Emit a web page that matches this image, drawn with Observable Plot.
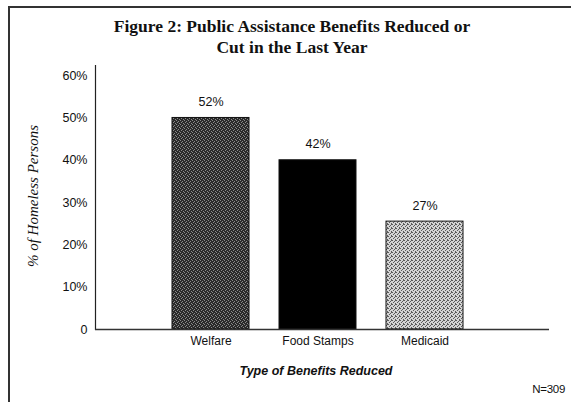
<!DOCTYPE html>
<html>
<head>
<meta charset="utf-8">
<script src="https://cdn.jsdelivr.net/npm/d3@7"></script>
<script src="https://cdn.jsdelivr.net/npm/@observablehq/plot@0.6"></script>
<style>
  html, body { margin: 0; padding: 0; background: #fff; }
  #wrap { position: relative; width: 571px; height: 402px; overflow: hidden; background: #fff; }
  #frame { position: absolute; left: 8px; top: 6px; width: 600px; height: 420px;
           border-left: 2px solid #333; border-top: 2px solid #333; box-sizing: border-box; pointer-events: none; }
  .t { position: absolute; color: #111; white-space: nowrap; }
  #title { left: 0; width: 584px; top: 16px; text-align: center; font: bold 17.5px "Liberation Serif", serif; line-height: 21px; }
  #ylab { left: 33px; top: 196px; transform: translate(-50%, -50%) rotate(-90deg); font: italic 15px "Liberation Serif", serif; }
  #xlab { left: 316px; top: 371px; transform: translate(-50%, -50%); font: bold italic 12.5px "Liberation Sans", sans-serif; }
  #note { right: 6px; top: 389px; transform: translateY(-50%); font: 11.5px "Liberation Sans", sans-serif; letter-spacing: -0.3px; }
</style>
</head>
<body>
<div id="wrap">
  <div id="chart"></div>
  <div id="frame"></div>
  <div id="title" class="t">Figure 2: Public Assistance Benefits Reduced or<br>Cut in the Last Year</div>
  <div id="ylab" class="t">% of Homeless Persons</div>
  <div id="xlab" class="t">Type of Benefits Reduced</div>
  <div id="note" class="t">N=309</div>
</div>
<script>
// Data
const categories = ["Welfare", "Food Stamps", "Medicaid"];
const barHeights = [50, 40, 25.5];          // bar heights as drawn (% scale)
const valueLabels = ["52%", "42%", "27%"];  // printed value labels
const yTicks = [0, 10, 20, 30, 40, 50, 60];
const barFills = ["url(#pWelfare)", "#000000", "url(#pMedicaid)"];

const rows = categories.map((c, i) => ({category: c, value: barHeights[i], label: valueLabels[i]}));

const chart = Plot.plot({
  width: 571,
  height: 402,
  marginLeft: 95,
  marginRight: 22,
  marginTop: 65,
  marginBottom: 73,
  style: {fontFamily: "Liberation Sans, sans-serif", fontSize: "12px", color: "#111", background: "transparent"},
  x: {domain: categories, paddingInner: 0.28, paddingOuter: 0.75, align: 0.47, label: null},
  y: {domain: [0, 62.4], label: null},
  color: {domain: categories, range: barFills},
  marks: [
    Plot.barY(rows, {x: "category", y: "value", fill: "category", stroke: "#111", strokeWidth: 1}),
    Plot.text(rows, {x: "category", y: "value", text: "label", dy: -16, fontSize: 12.5, fill: "#111"}),
    Plot.axisY({ticks: yTicks, tickSize: 0, tickPadding: 8, tickFormat: d => d === 0 ? "0" : d + "%", label: null, fontSize: 12.5}),
    Plot.axisX({tickSize: 0, tickPadding: 7, label: null, fontSize: 12}),
    Plot.frame({anchor: "left", stroke: "#222", strokeWidth: 1.2}),
    Plot.ruleY([0], {stroke: "#333", strokeWidth: 1.5})
  ]
});

// stipple patterns for the textured bars
const svg = d3.select(chart);
const defs = svg.insert("defs", ":first-child");
function stipple(id, base, dot, dots) {
  const p = defs.append("pattern").attr("id", id).attr("patternUnits", "userSpaceOnUse")
    .attr("width", 4).attr("height", 4);
  p.append("rect").attr("width", 4).attr("height", 4).attr("fill", base);
  dots.forEach(([x, y]) => p.append("rect").attr("x", x).attr("y", y).attr("width", 1).attr("height", 1).attr("fill", dot));
}
stipple("pWelfare", "#2a2a2a", "#8a8a8a", [[0,0],[2,1],[1,2],[3,3]]);
stipple("pMedicaid", "#d4d4d4", "#5a5a5a", [[0,0],[2,1],[1,2],[3,3],[3,0]]);

document.getElementById("chart").appendChild(chart);
</script>
</body>
</html>
